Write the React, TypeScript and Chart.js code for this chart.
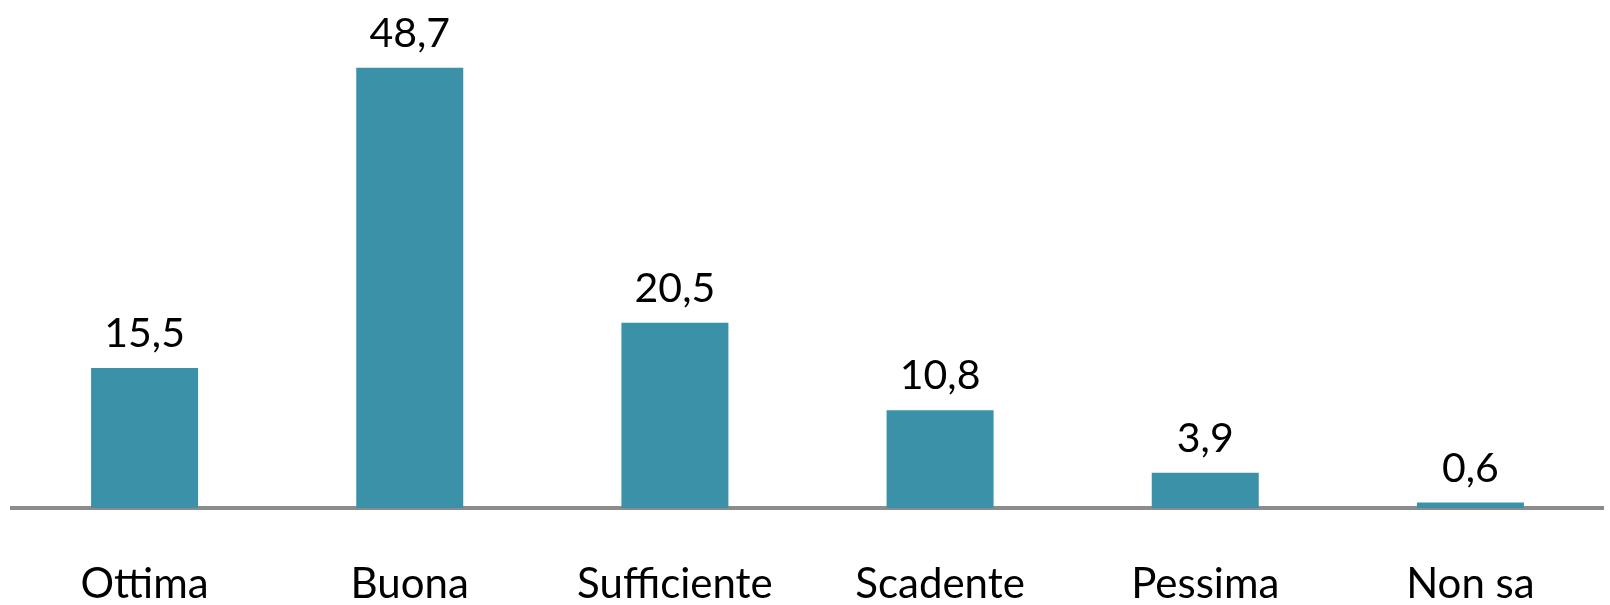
import React, { useEffect, useRef } from "react";
import { Chart, registerables } from "chart.js";

Chart.register(...registerables);

const categories: string[] = ["Ottima", "Buona", "Sufficiente", "Scadente", "Pessima", "Non sa"];
const values: number[] = [15.5, 48.7, 20.5, 10.8, 3.9, 0.6];
const valueLabels: string[] = ["15,5", "48,7", "20,5", "10,8", "3,9", "0,6"];

const BAR_COLOR = "#3a91a8";
const AXIS_COLOR = "#8c8c8c";
const FONT = "Lato";

const valueLabelPlugin = {
  id: "valueLabels",
  afterDatasetsDraw(chart: any) {
    const ctx = chart.ctx;
    const meta = chart.getDatasetMeta(0);
    ctx.save();
    ctx.font = `41px ${FONT}`;
    ctx.fillStyle = "#000000";
    ctx.textAlign = "center";
    ctx.textBaseline = "alphabetic";
    meta.data.forEach((bar: any, i: number) => {
      ctx.fillText(valueLabels[i], bar.x, bar.y - 21);
    });
    ctx.restore();
  },
};

export default function App() {
  const canvasRef = useRef<HTMLCanvasElement | null>(null);

  useEffect(() => {
    if (!canvasRef.current) return;
    const chart = new Chart(canvasRef.current, {
      type: "bar",
      data: {
        labels: categories,
        datasets: [
          {
            data: values,
            backgroundColor: BAR_COLOR,
            borderWidth: 0,
            barPercentage: 0.5,
            categoryPercentage: 0.807,
          },
        ],
      },
      options: {
        animation: false,
        responsive: true,
        maintainAspectRatio: false,
        layout: { padding: { top: 56, left: 12, right: 7, bottom: 0 } },
        plugins: {
          legend: { display: false },
          tooltip: { enabled: false },
        },
        scales: {
          x: {
            grid: { display: false, drawTicks: false },
            border: { display: true, color: AXIS_COLOR, width: 4 },
            ticks: {
              color: "#000000",
              padding: 55,
              font: { family: FONT, size: 42, lineHeight: 1 },
            },
            afterFit: (scale: any) => {
              scale.height = 97;
            },
          },
          y: {
            display: false,
            min: 0,
            max: 50,
          },
        },
      },
      plugins: [valueLabelPlugin],
    });
    return () => chart.destroy();
  }, []);

  return (
    <div style={{ position: "absolute", left: 0, top: 0, width: 1610, height: 605, background: "#ffffff" }}>
      <canvas ref={canvasRef} />
    </div>
  );
}
